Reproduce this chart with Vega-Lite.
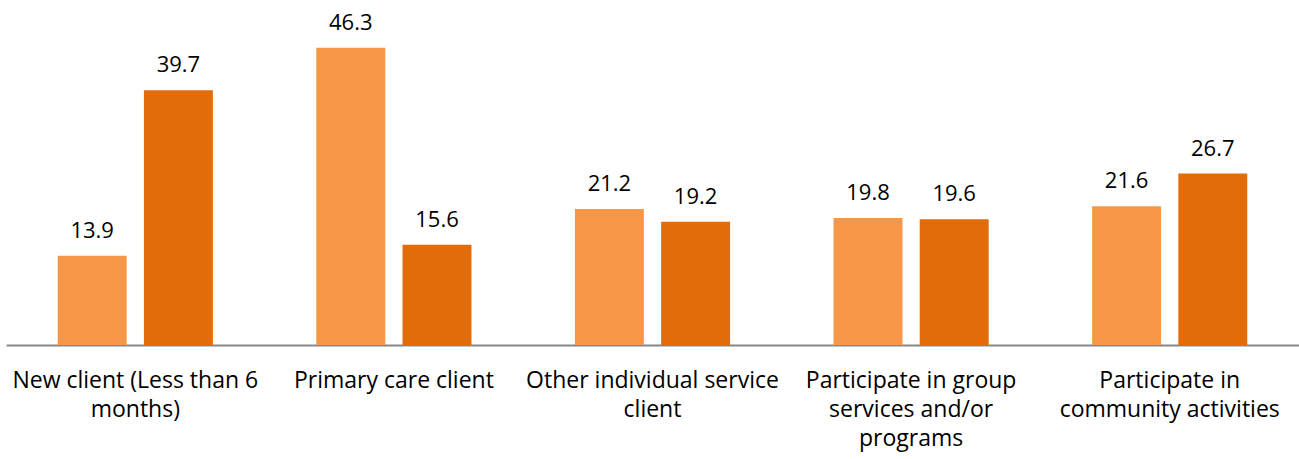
{
  "$schema": "https://vega.github.io/schema/vega-lite/v6.json",
  "width": 1293,
  "height": 321,
  "padding": {"left": 6, "right": 0, "top": 24, "bottom": 114},
  "autosize": {"type": "none"},
  "background": "white",
  "config": {"view": {"stroke": null}, "font": "Open Sans"},
  "data": {
    "values": [
      {"category": "New client (Less than 6 months)", "series": "Series 1", "value": 13.9},
      {"category": "New client (Less than 6 months)", "series": "Series 2", "value": 39.7},
      {"category": "Primary care client", "series": "Series 1", "value": 46.3},
      {"category": "Primary care client", "series": "Series 2", "value": 15.6},
      {"category": "Other individual service client", "series": "Series 1", "value": 21.2},
      {"category": "Other individual service client", "series": "Series 2", "value": 19.2},
      {"category": "Participate in group services and/or programs", "series": "Series 1", "value": 19.8},
      {"category": "Participate in group services and/or programs", "series": "Series 2", "value": 19.6},
      {"category": "Participate in community activities", "series": "Series 1", "value": 21.6},
      {"category": "Participate in community activities", "series": "Series 2", "value": 26.7}
    ]
  },
  "encoding": {
    "x": {
      "field": "category",
      "type": "nominal",
      "sort": null,
      "scale": {"paddingInner": 0.4, "paddingOuter": 0.2},
      "axis": {
        "title": null,
        "labelAngle": 0,
        "ticks": false,
        "domainColor": "#878787",
        "domainWidth": 2,
        "labelFont": "Open Sans",
        "labelFontSize": 23,
        "labelColor": "#000000",
        "labelPadding": 24,
        "labelLineHeight": 29,
        "labelLimit": 400,
        "labelBaseline": "top",
        "labelExpr": "datum.value == 'New client (Less than 6 months)' ? ['New client (Less than 6', 'months)'] : datum.value == 'Other individual service client' ? ['Other individual service', 'client'] : datum.value == 'Participate in group services and/or programs' ? ['Participate in group', 'services and/or', 'programs'] : datum.value == 'Participate in community activities' ? ['Participate in', 'community activities'] : datum.value"
      }
    },
    "xOffset": {
      "field": "series",
      "type": "nominal",
      "scale": {"paddingInner": 0.2, "paddingOuter": 0}
    },
    "y": {
      "field": "value",
      "type": "quantitative",
      "scale": {"domain": [0, 50]},
      "axis": null
    }
  },
  "layer": [
    {
      "mark": {"type": "bar"},
      "encoding": {
        "color": {
          "field": "series",
          "type": "nominal",
          "scale": {"range": ["#F79646", "#E36C0A"]},
          "legend": null
        }
      }
    },
    {
      "mark": {"type": "text", "baseline": "alphabetic", "dy": -18, "fontSize": 22, "font": "Open Sans", "color": "#000000"},
      "encoding": {
        "text": {"field": "value", "type": "quantitative", "format": ".1f"}
      }
    }
  ]
}
